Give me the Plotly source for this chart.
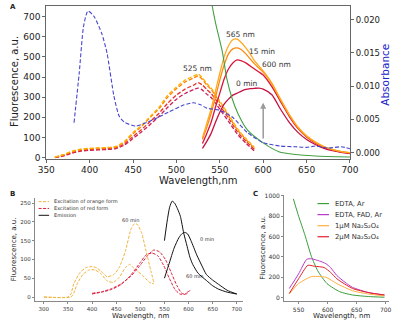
import plotly.graph_objects as go

W, H = 401, 324
FONT = "DejaVu Sans"

# ---------------- Panel A data ----------------
ex_wl = [360,370,380,390,400,410,420,430,440,450,460,470,480,490,500,510,520,525,530,535,540,545,550,560,570,580,590]
ex1 = [2,15,32,42,46,48,50,55,80,125,160,205,250,310,350,385,405,415,395,368,345,315,280,215,145,95,50]
ex2 = [2,14,30,40,44,46,48,52,76,118,155,200,243,300,342,375,396,405,388,360,338,308,273,208,140,90,46]
ex3 = [0,10,25,35,40,42,44,48,68,105,140,180,220,270,310,340,360,372,360,338,318,290,258,196,130,82,40]
ex4 = [0,8,22,32,36,38,40,44,62,95,128,165,205,250,290,318,338,345,335,315,298,270,240,180,118,72,32]

em_wl = [530,535,540,545,550,555,560,565,570,575,580,585,590,595,600,610,620,630,640,650,660,670,680,690,700]
em1 = [97,170,240,330,420,500,555,585,588,570,545,515,480,455,430,370,290,215,152,108,78,55,40,30,24]
em2 = [90,150,220,300,385,460,515,540,545,535,515,490,465,445,425,366,286,210,148,105,75,53,39,29,23]
em3 = [70,120,175,250,320,390,440,470,485,480,470,455,440,425,410,352,278,205,145,102,72,50,37,28,22]
em4 = [45,80,120,175,225,265,290,310,320,330,338,342,344,345,340,312,240,175,125,90,65,46,34,26,20]

gA_wl = [530,540,545,553,558,564,571,582,600,618,637,660,700]
gA = [1000,780,670,524,393,296,218,136,73,29,15,8,3]

abs_wl = [382,388,393,398,405,414,420,428,434,440,453,472,491,509,520,528,535,549,564,582,600,620,637,650,660,675,690,700]
abs_v = [0.0045,0.012,0.019,0.0213,0.0205,0.0179,0.0150,0.0085,0.0055,0.0046,0.0040,0.0049,0.0061,0.0072,0.0075,0.0072,0.0067,0.0064,0.0054,0.0030,0.0015,0.0010,0.0009,0.0008,0.0010,0.0007,0.0009,0.0006]

arrow_x, arrow_from, arrow_to = 600, 87, 272

A_labels = ["525 nm", "565 nm", "15 min", "600 nm", "0 min"]
A_label_x = [524, 574, 599, 615, 581]
A_label_y = [442, 612, 529, 461, 369]

# ---------------- Panel B data ----------------
bo1_wl = [300,350,356,362,375,387,400,409,419,431,444,456,469,481,488,494,503,512,522,528]
bo1 = [0,0,8,35,65,78,81,78,68,54,59,78,122,182,195,193,169,122,69,39]
bo2_wl = [300,356,362,369,381,394,406,419,431,444,456,469,478,484,494,506,519,528]
bo2 = [0,0,10,35,60,72,72,61,43,39,52,78,87,80,69,56,39,35]
br1_wl = [400,420,440,460,480,500,515,528,540,552,564,576,586,595,603]
br1 = [10,14,22,35,55,85,110,125,120,100,65,30,10,8,18]
br2_wl = [400,420,440,460,480,500,512,524,536,548,560,572,582,592,600]
br2 = [8,13,20,33,58,92,112,117,110,85,50,20,8,7,16]
bk60_wl = [550,556,561,566,571,577,583,590,597,603,609,620,637,650,662,680,700]
bk60 = [150,205,240,255,250,235,215,170,135,105,86,63,44,30,21,13,8]
bk0_wl = [550,560,570,580,586,592,598,605,617,627,637,650,662,680,700]
bk0 = [50,90,130,158,168,172,168,150,112,85,60,45,34,18,8]

B_labels = ["60 min", "60 min", "0 min", "60 min"]
B_label_x = [480, 566, 638, 612]
B_label_y = [204, 271, 154, 55]
B_legend = ["Excitation of orange form", "Excitation of red form", "Emission"]

# ---------------- Panel C data ----------------
c_green_wl = [541,550,561,572,583,599,621,643,670,698]
c_green = [970,800,613,406,263,137,57,25,10,3]
c_mag_wl = [534,550,564,572,586,597,605,616,630,643,671,698]
c_mag = [89,232,375,381,359,333,295,216,150,100,48,25]
c_red_wl = [534,550,566,577,594,605,616,643,671,698]
c_red = [41,184,317,308,295,248,184,89,48,25]
c_org_wl = [534,550,572,586,597,616,643,671,698]
c_org = [35,137,206,206,200,137,67,35,16]
C_legend = ["EDTA, Ar", "EDTA, FAD, Ar", "1μM Na₂S₂O₄", "2μM Na₂S₂O₄"]

# ---------------- styles ----------------
ex_cols = ["#FFB000", "#FF8000", "#E8302A", "#C8205A"]
em_cols = ["#FFA820", "#FF8A10", "#DC143C", "#C41040"]
green = "#44A044"
blue = "#4646D2"
b_orange = "#F2B33D"
b_red = "#DC1E3C"
c_cols = ["#3A9E3A", "#B83CC8", "#FFAE40", "#E5202A"]

def px(x):
    return x / W

def py(y):
    return 1 - y / H

fig = go.Figure()

def line(x, y, color, xa, ya, dash="solid", width=1.2, shape="spline"):
    fig.add_trace(go.Scatter(x=x, y=y, mode="lines", xaxis=xa, yaxis=ya,
                             line=dict(color=color, width=width, dash=dash, shape=shape, smoothing=0.6),
                             showlegend=False, hoverinfo="skip"))

# Panel A
for ys, c in zip([ex4, ex3, ex2, ex1], ex_cols[::-1]):
    line(ex_wl, ys, c, "x", "y", dash="4px,2px", width=1.3)
for ys, c in zip([em4, em3, em2, em1], em_cols[::-1]):
    line(em_wl, ys, c, "x", "y", width=1.3)
line(gA_wl, gA, green, "x", "y", width=1.1)
line(abs_wl, abs_v, blue, "x", "y2", dash="4px,2px", width=1.1)

# Panel B
line(bo1_wl, bo1, b_orange, "x2", "y3", dash="3px,1.5px", width=1.0)
line(bo2_wl, bo2, b_orange, "x2", "y3", dash="3px,1.5px", width=1.0)
line(br1_wl, br1, b_red, "x2", "y3", dash="3px,1.5px", width=1.0)
line(br2_wl, br2, b_red, "x2", "y3", dash="3px,1.5px", width=1.0)
line(bk60_wl, bk60, "#111111", "x2", "y3", width=1.0)
line(bk0_wl, bk0, "#111111", "x2", "y3", width=1.0)

# Panel C
for (xw, yv), c in zip([(c_green_wl, c_green), (c_mag_wl, c_mag), (c_org_wl, c_org), (c_red_wl, c_red)],
                       [c_cols[0], c_cols[1], c_cols[2], c_cols[3]]):
    line(xw, yv, c, "x3", "y4", width=1.0)

ax_common = dict(showgrid=False, zeroline=False, showline=True, ticks="outside")

fig.update_layout(
    width=W, height=H, margin=dict(l=0, r=0, t=0, b=0),
    paper_bgcolor="white", plot_bgcolor="white",
    font=dict(family=FONT, color="#222"),
    showlegend=False,
    xaxis=dict(domain=[px(39), px(357)], range=[350, 700], anchor="y",
               tickvals=[350, 400, 450, 500, 550, 600, 650, 700], mirror=True,
               linecolor="#666", tickcolor="#666", ticklen=3, tickfont=dict(size=9, color="#222"), **ax_common),
    yaxis=dict(domain=[py(159), py(3)], range=[-5, 753], anchor="x",
               tickvals=[0, 100, 200, 300, 400, 500, 600, 700],
               linecolor="#666", tickcolor="#666", ticklen=3, tickfont=dict(size=9, color="#222"), **ax_common),
    yaxis2=dict(overlaying="y", side="right", anchor="x", range=[-0.00088, 0.02206],
                tickvals=[0, 0.005, 0.01, 0.015, 0.02], tickformat=".3f",
                linecolor="#666", tickcolor="#666", ticklen=3, tickfont=dict(size=8.5, color="#222"), **ax_common),
    xaxis2=dict(domain=[px(27), px(245)], range=[281.2, 712.9], anchor="y3",
                tickvals=[300, 350, 400, 450, 500, 550, 600, 650, 700],
                linecolor="#888", tickcolor="#888", ticklen=2, tickfont=dict(size=5.5, color="#333"), **ax_common),
    yaxis3=dict(domain=[py(305), py(199)], range=[-11.7, 264.3], anchor="x2",
                tickvals=[0, 50, 100, 150, 200, 250],
                linecolor="#888", tickcolor="#888", ticklen=2, tickfont=dict(size=5.5, color="#333"), **ax_common),
    xaxis3=dict(domain=[px(288), px(398)], range=[525, 706], anchor="y4",
                tickvals=[550, 600, 650, 700],
                linecolor="#888", tickcolor="#888", ticklen=2, tickfont=dict(size=6, color="#333"), **ax_common),
    yaxis4=dict(domain=[py(305), py(196)], range=[-38, 1010], anchor="x3",
                tickvals=[0, 200, 400, 600, 800, 1000],
                linecolor="#888", tickcolor="#888", ticklen=2, tickfont=dict(size=6, color="#333"), **ax_common),
)

ann = []
def text(x, y, s, size, color="#222", angle=0, bold=False, xanchor="center"):
    ann.append(dict(x=px(x), y=py(y), xref="paper", yref="paper", text=("<b>%s</b>" % s) if bold else s,
                    showarrow=False, font=dict(size=size, color=color, family=FONT),
                    textangle=angle, xanchor=xanchor, yanchor="middle"))

# panel letters
text(4, 4, "A", 7, bold=True)
text(4, 195, "B", 7, bold=True)
text(258, 195, "C", 7, bold=True)

# axis titles
text(198, 181.5, "Wavelength,nm", 10)
text(6, 80, "Fluorescence, a.u.", 10, angle=-90)
text(394, 73, "Absorbance", 10.5, color="#2020C8", angle=-90)
text(138, 319.5, "Wavelength, nm", 7)
text(5, 252, "Fluorescence, a.u.", 7, angle=-90)
text(348, 319.5, "Wavelength, nm", 7)
text(265, 250, "Fluorescence, a.u.", 7, angle=-90)

# data labels
for s, x, y in zip(A_labels, A_label_x, A_label_y):
    ann.append(dict(x=x, y=y, xref="x", yref="y", text=s, showarrow=False,
                    font=dict(size=7.5, color="#333", family=FONT)))
for s, x, y in zip(B_labels, B_label_x, B_label_y):
    ann.append(dict(x=x, y=y, xref="x2", yref="y3", text=s, showarrow=False,
                    font=dict(size=5, color="#333", family=FONT)))

# arrow
ann.append(dict(x=arrow_x, y=arrow_to, ax=arrow_x, ay=arrow_from, xref="x", yref="y",
                axref="x", ayref="y", text="", showarrow=True, arrowhead=2, arrowsize=0.8,
                arrowwidth=1.5, arrowcolor="#9a9a9a"))

shapes = []
# legend B
b_leg_styles = [(b_orange, "3px,1.5px"), (b_red, "3px,1.5px"), ("#111111", "solid")]
for i, (lab, (c, d)) in enumerate(zip(B_legend, b_leg_styles)):
    yy = 203 + 7 * i
    shapes.append(dict(type="line", xref="paper", yref="paper", x0=px(31), x1=px(42), y0=py(yy), y1=py(yy),
                       line=dict(color=c, width=1.0, dash=d)))
    text(45, yy, lab, 5, color="#333", xanchor="left")
# legend C
for i, (lab, c) in enumerate(zip(C_legend, c_cols)):
    yy = 205 + 11.3 * i
    shapes.append(dict(type="line", xref="paper", yref="paper", x0=px(323), x1=px(335), y0=py(yy), y1=py(yy),
                       line=dict(color=c, width=1.2)))
    text(339, yy, lab, 6.8, color="#333", xanchor="left")

fig.update_layout(annotations=ann, shapes=shapes)
fig.write_html("out.html", config={"displayModeBar": False},
               post_script="document.body.style.margin='0';document.body.style.padding='0';")
